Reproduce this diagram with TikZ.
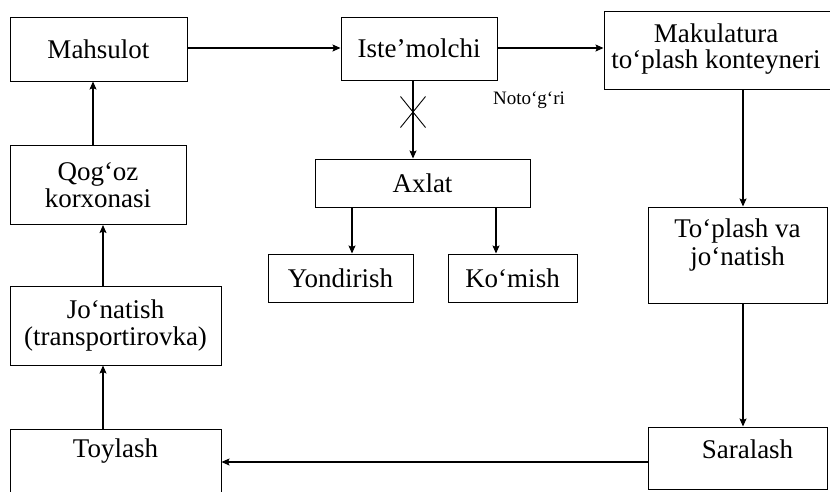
\documentclass[tikz,border=0pt]{standalone}
\usepackage{fontspec}
\setmainfont{Liberation Serif}
\usetikzlibrary{arrows.meta}
\begin{document}
\begin{tikzpicture}[x=1pt,y=-1pt,
  box/.style={draw, line width=1pt, inner sep=0pt, align=center, font=\fontsize{27}{27}\selectfont},
  lbl/.style={inner sep=0pt, align=center, font=\fontsize{27}{27}\selectfont},
  arr/.style={line width=1.2pt, -{Stealth[length=8pt,width=7pt,inset=1.5pt]}},
  cross/.style={line width=0.9pt}
]
\useasboundingbox (0,0) rectangle (830,491);
\clip (0,0) rectangle (830,491);

% boxes
\node[box, minimum width=177pt, minimum height=64pt] (mah) at (98.5,49) {Mahsulot};
\node[box, minimum width=156pt, minimum height=63pt] (ist) at (419,48.5) {Iste’molchi};
\node[box, minimum width=236pt, minimum height=78pt] (mak) at (722,50) {};
\node[lbl, font=\fontsize{27}{26}\selectfont] (makt) at (716,49) {Makulatura\\to‘plash konteyneri};
\node[box, minimum width=176pt, minimum height=79pt] (qog) at (98,185) {Qog‘oz\\korxonasi};
\node[box, minimum width=211pt, minimum height=79pt] (jon) at (115.5,325.5) {Jo‘natish\\(transportirovka)};
\node[box, minimum width=211pt, minimum height=91pt] (toy) at (115.5,474.5) {};
\node[lbl] (toyt) at (115.5,451) {Toylash};
\node[box, minimum width=215pt, minimum height=48pt] (axl) at (422.5,183) {Axlat};
\node[box, minimum width=145pt, minimum height=48pt] (yon) at (340.5,278) {Yondirish};
\node[box, minimum width=129pt, minimum height=48pt] (kom) at (512.5,278) {Ko‘mish};
\node[box, minimum width=179pt, minimum height=96pt] (top) at (737.5,255) {};
\node[lbl, font=\fontsize{27}{28}\selectfont] (topt) at (737.5,245) {To‘plash va\\jo‘natish};
\node[box, minimum width=179pt, minimum height=62pt] (sar) at (737.5,458) {};
\node[lbl] (sart) at (747.5,449) {Saralash};
\node[inner sep=0pt, font=\fontsize{19}{20}\selectfont] (ng) at (529,100) {Noto‘g‘ri};

% helper coordinates
\coordinate (cA) at (413,0);
\coordinate (cB) at (352,0);
\coordinate (cC) at (496,0);
\coordinate (cD) at (743,0);
\coordinate (cE) at (0,462);
\coordinate (cF) at (103,0);
\coordinate (cG) at (93,0);
\coordinate (cH) at (0,48);
\coordinate (cx) at (413,112);

% connectors
\draw[arr] (mah.east |- cH) -- (ist.west |- cH);
\draw[arr] (ist.east |- cH) -- (mak.west |- cH);
\draw[arr] (ist.south -| cA) -- (axl.north -| cA);
\draw[cross] (cx) +(-12.5,-15.5) -- +(12.5,15.5);
\draw[cross] (cx) +(12.5,-15.5) -- +(-12.5,15.5);
\draw[arr] (axl.south -| cB) -- (yon.north -| cB);
\draw[arr] (axl.south -| cC) -- (kom.north -| cC);
\draw[arr] (mak.south -| cD) -- (top.north -| cD);
\draw[arr] (top.south -| cD) -- (sar.north -| cD);
\draw[arr] (sar.west |- cE) -- (toy.east |- cE);
\draw[arr] (toy.north -| cF) -- (jon.south -| cF);
\draw[arr] (jon.north -| cF) -- (qog.south -| cF);
\draw[arr] (qog.north -| cG) -- (mah.south -| cG);
\end{tikzpicture}
\end{document}
